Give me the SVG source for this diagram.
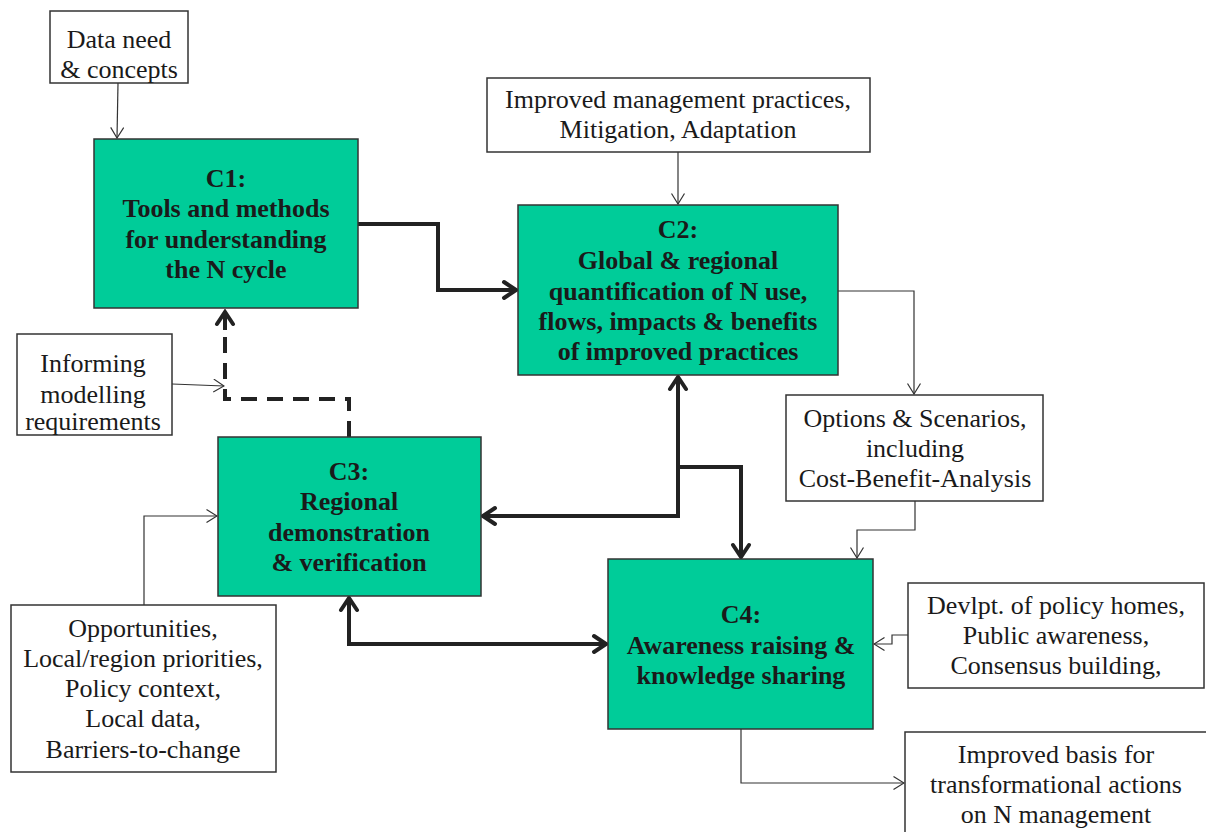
<svg xmlns="http://www.w3.org/2000/svg" width="1206" height="832" viewBox="0 0 1206 832">
<defs>
<style>
.box{fill:#ffffff;stroke:#333333;stroke-width:1.5}
.comp{fill:#00CC99;stroke:#333333;stroke-width:1.5}
.t{font-family:'Liberation Serif','Tinos','Times New Roman','DejaVu Serif','Noto Serif',serif;font-size:26px;fill:#1a1a1a;text-anchor:middle}
.b{font-family:'Liberation Serif','Tinos','Times New Roman','DejaVu Serif','Noto Serif',serif;font-size:26px;font-weight:bold;fill:#1a1a1a;text-anchor:middle}
.thin{fill:none;stroke:#333333;stroke-width:1.2;marker-end:url(#ah)}
.thick{fill:none;stroke:#222222;stroke-width:4;stroke-linejoin:miter}
.dash{fill:none;stroke:#222222;stroke-width:4;stroke-dasharray:16 10}
</style>
<marker id="ah" markerUnits="userSpaceOnUse" viewBox="0 0 12 14" refX="11" refY="7" markerWidth="12" markerHeight="14" orient="auto">
<path d="M0.5,0.5 L11,7 L0.5,13.5" fill="none" stroke="#333333" stroke-width="1.2"/>
</marker>
<marker id="th" markerUnits="userSpaceOnUse" viewBox="0 0 18 22" refX="15" refY="11" markerWidth="18" markerHeight="22" orient="auto-start-reverse">
<path d="M3,3 L15,11 L3,19" fill="none" stroke="#222222" stroke-width="4" stroke-linecap="round" stroke-linejoin="miter"/>
</marker>
</defs>
<rect width="1206" height="832" fill="#ffffff"/>

<g id="connectors">
<path class="thin" d="M118,83 L117,138"/>
<path class="thin" d="M678,152 L678,204"/>
<path class="thin" d="M838,291 H914 V394"/>
<path class="thin" d="M915,501 V530 H857 V558"/>
<path class="thin" d="M908,635 H892 V644 H874"/>
<path class="thin" d="M741,729 V783 H904"/>
<path class="thin" d="M172,384 L224,386"/>
<path class="thin" d="M144,605 V516 H217"/>
<path class="thick" d="M358,224 H438 V290 H516" marker-end="url(#th)"/>
<path class="thick" d="M678,377 V516 H483" marker-start="url(#th)" marker-end="url(#th)"/>
<path class="thick" d="M678,467 H741 V557" marker-end="url(#th)"/>
<path class="thick" d="M349,598 V644 H606" marker-start="url(#th)" marker-end="url(#th)"/>
<path class="dash" d="M349,437 V399 H225 V312"/>
<path d="M225,330 V312" fill="none" stroke="#222222" stroke-width="4" marker-end="url(#th)"/>
</g>

<g id="data-need">
<rect class="box" x="50" y="11" width="138" height="72"/>
<text class="t" x="119" y="48">Data need</text>
<text class="t" x="119" y="78">&amp; concepts</text>
</g>

<g id="c1">
<rect class="comp" x="94" y="139" width="264" height="169"/>
<text class="b" x="226" y="187">C1:</text>
<text class="b" x="226" y="217">Tools and methods</text>
<text class="b" x="226" y="248">for understanding</text>
<text class="b" x="226" y="278">the N cycle</text>
</g>

<g id="mgmt">
<rect class="box" x="487" y="78" width="383" height="74"/>
<text class="t" x="678" y="108">Improved management practices,</text>
<text class="t" x="678" y="138">Mitigation, Adaptation</text>
</g>

<g id="c2">
<rect class="comp" x="518" y="205" width="320" height="170"/>
<text class="b" x="678" y="238">C2:</text>
<text class="b" x="678" y="269">Global &amp; regional</text>
<text class="b" x="678" y="300">quantification of N use,</text>
<text class="b" x="678" y="330">flows, impacts &amp; benefits</text>
<text class="b" x="678" y="360">of improved practices</text>
</g>

<g id="informing">
<rect class="box" x="17" y="334" width="155" height="101"/>
<text class="t" x="93" y="372">Informing</text>
<text class="t" x="93" y="403">modelling</text>
<text class="t" x="93" y="430">requirements</text>
</g>

<g id="c3">
<rect class="comp" x="218" y="437" width="263" height="159"/>
<text class="b" x="349" y="480">C3:</text>
<text class="b" x="349" y="510">Regional</text>
<text class="b" x="349" y="541">demonstration</text>
<text class="b" x="349" y="571">&amp; verification</text>
</g>

<g id="options">
<rect class="box" x="786" y="395" width="257" height="106"/>
<text class="t" x="915" y="427">Options &amp; Scenarios,</text>
<text class="t" x="915" y="457">including</text>
<text class="t" x="915" y="487">Cost-Benefit-Analysis</text>
</g>

<g id="opportunities">
<rect class="box" x="11" y="605" width="265" height="167"/>
<text class="t" x="143" y="637">Opportunities,</text>
<text class="t" x="143" y="667">Local/region priorities,</text>
<text class="t" x="143" y="697">Policy context,</text>
<text class="t" x="143" y="727">Local data,</text>
<text class="t" x="143" y="758">Barriers-to-change</text>
</g>

<g id="c4">
<rect class="comp" x="608" y="559" width="265" height="170"/>
<text class="b" x="741" y="623">C4:</text>
<text class="b" x="741" y="654">Awareness raising &amp;</text>
<text class="b" x="741" y="684">knowledge sharing</text>
</g>

<g id="devlpt">
<rect class="box" x="908" y="583" width="296" height="105"/>
<text class="t" x="1056" y="614">Devlpt. of policy homes,</text>
<text class="t" x="1056" y="644">Public awareness,</text>
<text class="t" x="1056" y="674">Consensus building,</text>
</g>

<g id="improved-basis">
<rect class="box" x="905" y="732" width="305" height="110"/>
<text class="t" x="1056" y="763">Improved basis for</text>
<text class="t" x="1056" y="793">transformational actions</text>
<text class="t" x="1056" y="823">on N management</text>
</g>
</svg>
